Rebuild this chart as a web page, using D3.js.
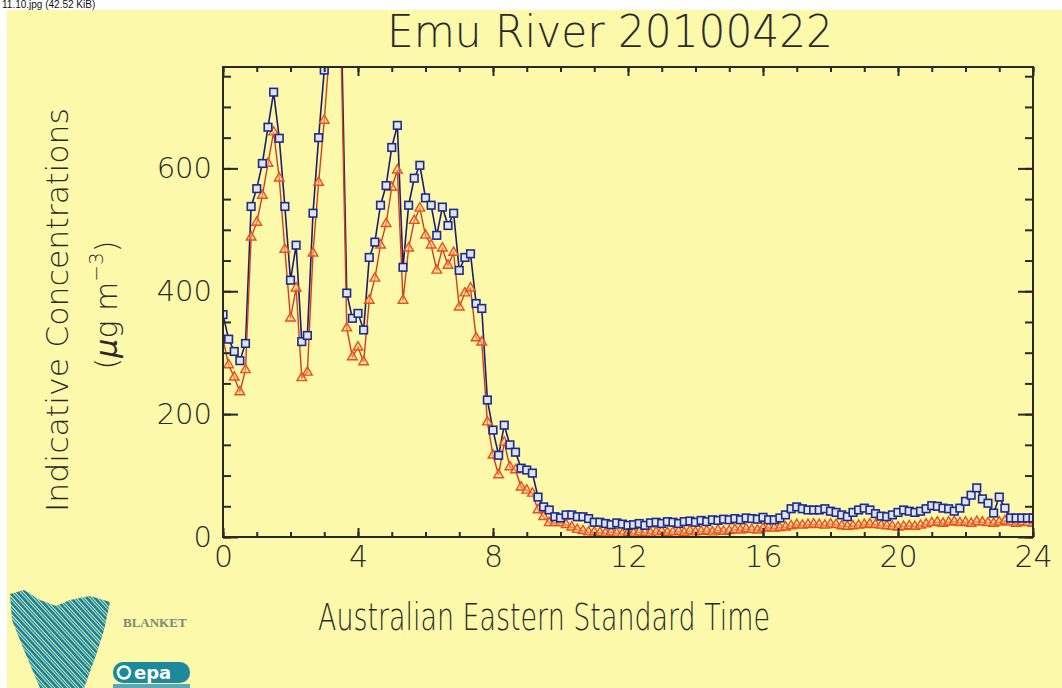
<!DOCTYPE html>
<html>
<head>
<meta charset="utf-8">
<script src="https://cdn.jsdelivr.net/npm/d3@7/dist/d3.min.js"></script>
<style>
  body { margin: 0; background: #fff; }
  svg { display: block; }
  .axis text { font-family: "DejaVu Sans", sans-serif; font-weight: 200; fill: #2a2a2a; }
</style>
</head>
<body>
<div id="chart"></div>
<script>
// 10-minute readings, 00:00 .. 24:00
const stepMinutes = 10;

const blueValues = [362,322,302,287,315,538,567,608,667,724,
  649,538,418,475,318,328,527,650,760,840,
  860,850,397,356,364,337,455,480,540,572,
  634,670,439,540,584,605,552,540,491,537,
  507,527,434,455,461,380,372,223,174,133,
  182,150,138,112,109,104,65,49,44,33,
  31,36,36,33,33,30,24,24,22,20,
  23,21,19,20,22,19,23,24,22,25,
  24,22,25,26,24,27,25,28,27,29,
  28,30,28,31,30,29,32,28,28,31,
  36,46,49,46,44,44,44,46,42,40,
  36,33,40,44,47,44,38,34,33,36,
  40,44,42,40,42,46,51,50,47,46,
  42,47,58,68,80,62,55,39,65,47,
  31,31,31,31,31];

const redValues = [322,280,260,236,272,488,512,556,608,659,
  584,468,356,405,259,268,462,577,678,800,
  820,790,340,293,309,285,385,421,475,510,
  569,597,385,470,515,535,491,475,434,470,
  442,463,374,397,405,324,317,187,133,101,
  154,114,109,81,76,71,44,33,23,23,
  23,20,16,12,10,8,8,7,6,8,
  6,5,7,6,8,7,6,8,9,7,
  8,9,7,10,8,9,10,8,11,9,
  10,12,11,13,12,11,14,15,14,15,
  16,18,20,19,20,21,20,19,21,20,
  18,17,18,19,20,21,20,19,18,17,
  16,17,18,17,19,21,23,24,22,24,
  25,23,24,22,25,24,23,22,24,26,
  24,22,24,23,22];

const xTicks = [0, 4, 8, 12, 16, 20, 24];
const yTicks = [0, 200, 400, 600];

const W = 1062, H = 688;
const plot = {left: 223, right: 1033, top: 67, bottom: 537};

const svg = d3.select("#chart").append("svg").attr("width", W).attr("height", H);

// page strip + yellow sheet
svg.append("rect").attr("width", W).attr("height", H).attr("fill", "#ffffff");
svg.append("text").attr("x", 2).attr("y", 8)
   .attr("font-family", "Liberation Sans, sans-serif").attr("font-size", 10)
   .attr("fill", "#111").text("11.10.jpg (42.52 KiB)");
svg.append("rect").attr("x", 7).attr("y", 10).attr("width", W - 7).attr("height", H - 10)
   .attr("fill", "#fcf9aa");

const x = d3.scaleLinear().domain([0, 24]).range([plot.left, plot.right]);
const y = d3.scaleLinear().domain([0, 765]).range([plot.bottom, plot.top]);

const toPoints = vals => vals.map((v, i) => ({t: i * stepMinutes / 60, v: v}));
const blue = toPoints(blueValues);
const red = toPoints(redValues);

svg.append("clipPath").attr("id", "clip").append("rect")
   .attr("x", plot.left).attr("y", plot.top)
   .attr("width", plot.right - plot.left).attr("height", plot.bottom - plot.top);

const g = svg.append("g").attr("clip-path", "url(#clip)");
const line = d3.line().x(d => x(d.t)).y(d => y(d.v));

const blueCol = "#1f2a8f", redCol = "#e8501e";

g.append("path").datum(blue).attr("d", line).attr("fill", "none")
 .attr("stroke", "#1d1d70").attr("stroke-width", 1.6);
g.append("path").datum(red).attr("d", line).attr("fill", "none")
 .attr("stroke", "#cf3f1e").attr("stroke-width", 1.4);

g.selectAll(".tri").data(red).enter().append("path").attr("class", "tri")
 .attr("d", d3.symbol().type(d3.symbolTriangle).size(40))
 .attr("transform", d => "translate(" + x(d.t) + "," + y(d.v) + ")")
 .attr("fill", "#f7c98a").attr("fill-opacity", 0.5).attr("stroke", redCol).attr("stroke-width", 1.4);

g.selectAll(".sq").data(blue).enter().append("rect").attr("class", "sq")
 .attr("x", d => x(d.t) - 3.8).attr("y", d => y(d.v) - 3.8)
 .attr("width", 7.6).attr("height", 7.6)
 .attr("fill", "#dfe6e8").attr("stroke", blueCol).attr("stroke-width", 1.6);

// frame and ticks
svg.append("rect").attr("x", plot.left).attr("y", plot.top)
   .attr("width", plot.right - plot.left).attr("height", plot.bottom - plot.top)
   .attr("fill", "none").attr("stroke", "#2a2a2a").attr("stroke-width", 2);

const minorX = d3.range(0, 25, 1);
const minorY = d3.range(0, 751, 50);

function styleAxis(sel) {
  sel.select(".domain").remove();
  sel.selectAll(".tick line").attr("stroke", "#2a2a2a").attr("stroke-width", 2);
}

svg.append("g").attr("class", "axis").attr("transform", "translate(0," + plot.bottom + ")")
   .call(d3.axisBottom(x).tickValues(minorX).tickSize(-5).tickFormat("")).call(styleAxis);
svg.append("g").attr("class", "axis").attr("transform", "translate(0," + plot.bottom + ")")
   .call(d3.axisBottom(x).tickValues(xTicks).tickSize(-9).tickPadding(9).tickFormat(d3.format("d")))
   .call(styleAxis)
   .selectAll("text").attr("font-size", 30);
svg.append("g").attr("class", "axis").attr("transform", "translate(0," + plot.top + ")")
   .call(d3.axisTop(x).tickValues(minorX).tickSize(-5).tickFormat("")).call(styleAxis);
svg.append("g").attr("class", "axis").attr("transform", "translate(0," + plot.top + ")")
   .call(d3.axisTop(x).tickValues(xTicks).tickSize(-9).tickFormat("")).call(styleAxis);

svg.append("g").attr("class", "axis").attr("transform", "translate(" + plot.left + ",0)")
   .call(d3.axisLeft(y).tickValues(minorY).tickSize(-8).tickFormat("")).call(styleAxis);
svg.append("g").attr("class", "axis").attr("transform", "translate(" + plot.left + ",0)")
   .call(d3.axisLeft(y).tickValues(yTicks).tickSize(-15).tickPadding(11).tickFormat(d3.format("d")))
   .call(styleAxis)
   .selectAll("text").attr("font-size", 29);
svg.append("g").attr("class", "axis").attr("transform", "translate(" + plot.right + ",0)")
   .call(d3.axisRight(y).tickValues(minorY).tickSize(-8).tickFormat("")).call(styleAxis);
svg.append("g").attr("class", "axis").attr("transform", "translate(" + plot.right + ",0)")
   .call(d3.axisRight(y).tickValues(yTicks).tickSize(-15).tickFormat("")).call(styleAxis);

// titles
const font = "DejaVu Sans, sans-serif";
svg.append("text").attr("x", 387).attr("y", 47).attr("font-family", font).attr("font-weight", 200)
   .attr("font-size", 45).attr("fill", "#2a2a2a")
   .attr("textLength", 446).attr("lengthAdjust", "spacingAndGlyphs")
   .text("Emu River 20100422");

svg.append("text").attr("x", 318).attr("y", 630).attr("font-family", font).attr("font-weight", 200)
   .attr("font-size", 37).attr("fill", "#2a2a2a")
   .attr("textLength", 452).attr("lengthAdjust", "spacingAndGlyphs")
   .text("Australian Eastern Standard Time");

svg.append("text").attr("transform", "translate(68,310) rotate(-90)")
   .attr("text-anchor", "middle").attr("font-family", font).attr("font-weight", 200)
   .attr("font-size", 31).attr("fill", "#2a2a2a")
   .attr("textLength", 404).attr("lengthAdjust", "spacingAndGlyphs")
   .text("Indicative Concentrations");

const unit = svg.append("text").attr("transform", "translate(117,305) rotate(-90)")
   .attr("text-anchor", "middle").attr("font-family", font).attr("font-weight", 200)
   .attr("font-size", 30).attr("fill", "#2a2a2a");
unit.append("tspan").text("(");
unit.append("tspan").attr("font-style", "italic").text("\u00b5");
unit.append("tspan").text("g m");
unit.append("tspan").attr("font-size", 20).attr("dy", -14).text("\u22123");
unit.append("tspan").attr("dy", 14).text(")");

// logo block, bottom left
const logo = svg.append("g");
logo.append("clipPath").attr("id", "tas").append("path")
    .attr("d", "M10,594 L24,590 L40,600 L56,606 L70,600 L90,596 L110,602 L104,630 L96,655 L84,688 L40,688 L24,650 L12,620 Z");
const stripes = logo.append("g").attr("clip-path", "url(#tas)");
d3.range(-120, 140, 8).forEach(o => {
  stripes.append("line").attr("x1", o).attr("y1", 580).attr("x2", o + 110).attr("y2", 700)
    .attr("stroke", "#1f7f8c").attr("stroke-width", 5);
  stripes.append("line").attr("x1", o + 1).attr("y1", 580).attr("x2", o + 111).attr("y2", 700)
    .attr("stroke", "#8fe0e6").attr("stroke-width", 1.2);
});
logo.append("text").attr("x", 123).attr("y", 627)
    .attr("font-family", "Liberation Serif, serif").attr("font-size", 13).attr("font-weight", "bold")
    .attr("fill", "#7a8a76").text("BLANKET");
logo.append("rect").attr("x", 113).attr("y", 662).attr("width", 77).attr("height", 21)
    .attr("rx", 10).attr("fill", "#1c8a9c");
logo.append("circle").attr("cx", 124).attr("cy", 672.5).attr("r", 6)
    .attr("fill", "none").attr("stroke", "#fff").attr("stroke-width", 2.5);
logo.append("text").attr("x", 134).attr("y", 679)
    .attr("font-family", font).attr("font-size", 18).attr("font-weight", "bold")
    .attr("fill", "#fff").text("epa");
logo.append("rect").attr("x", 113).attr("y", 684).attr("width", 77).attr("height", 4)
    .attr("fill", "#5aa8b4");
</script>
</body>
</html>
